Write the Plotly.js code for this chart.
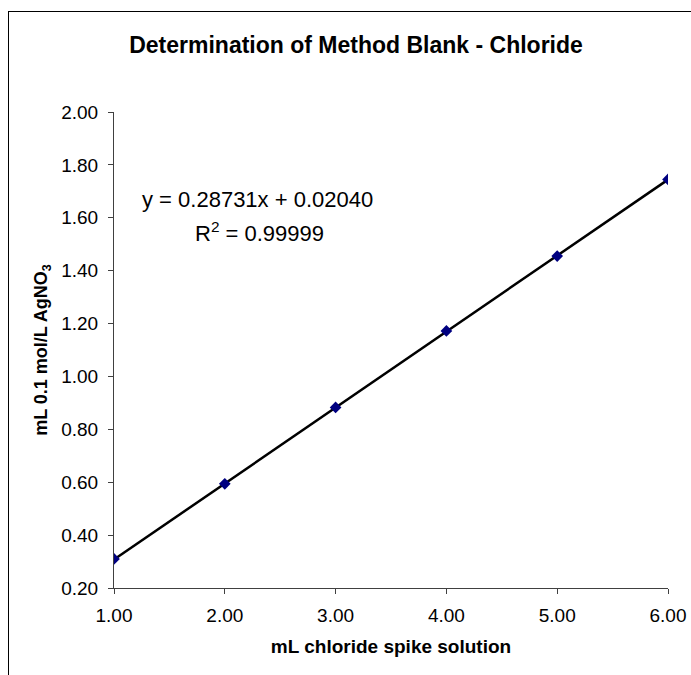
<!DOCTYPE html>
<html>
<head>
<meta charset="utf-8">
<script src="https://cdn.plot.ly/plotly-3.0.1.min.js"></script>
<style>
  html, body { margin: 0; padding: 0; background: #fff; }
  #wrap { position: relative; width: 691px; height: 675px; overflow: hidden; }
  #chart { width: 691px; height: 675px; }
  #frame { position: absolute; left: 8px; top: 11px; width: 760px; height: 760px;
           border-left: 1px solid #000; border-top: 1px solid #000; pointer-events: none; }
</style>
</head>
<body>
<div id="wrap">
  <div id="chart"></div>
  <div id="frame"></div>
</div>
<script>
// Data
const spikeVolume = [1, 2, 3, 4, 5, 6];
const agno3Volume = [0.31, 0.594, 0.883, 1.172, 1.455, 1.745];
const slope = 0.28731;
const intercept = 0.02040;
const rSquared = 0.99999;
const xTicks = [1, 2, 3, 4, 5, 6];
const yTicks = [0.2, 0.4, 0.6, 0.8, 1.0, 1.2, 1.4, 1.6, 1.8, 2.0];

const trendX = [spikeVolume[0], spikeVolume[spikeVolume.length - 1]];
const trendY = trendX.map(x => slope * x + intercept);

const FONT = '"Liberation Sans", Arial, sans-serif';
const AXIS_COLOR = '#404040';

const traces = [
  {
    x: trendX, y: trendY, type: 'scatter', mode: 'lines',
    line: { color: '#000000', width: 2.5 }, hoverinfo: 'skip', showlegend: false
  },
  {
    x: spikeVolume, y: agno3Volume, type: 'scatter', mode: 'markers',
    marker: { symbol: 'diamond', size: 9, color: '#000080' }, showlegend: false
  }
];

const layout = {
  width: 691, height: 675,
  margin: { l: 114, r: 23, t: 112, b: 87 },
  paper_bgcolor: '#ffffff', plot_bgcolor: '#ffffff',
  font: { family: FONT, color: '#000' },
  title: {
    text: '<b>Determination of Method Blank - Chloride</b>',
    font: { family: FONT, size: 23, color: '#000' },
    xref: 'container', yref: 'container', x: 356 / 691, y: 1 - 45 / 675,
    xanchor: 'center', yanchor: 'middle'
  },
  xaxis: {
    range: [1, 6], tickvals: xTicks, tickformat: '.2f',
    showgrid: false, zeroline: false, showline: true, linecolor: AXIS_COLOR, linewidth: 1,
    ticks: 'outside', ticklen: 5, tickcolor: AXIS_COLOR, tickwidth: 1,
    ticklabelstandoff: 5,
    tickfont: { family: FONT, size: 19, color: '#000' },
    title: { text: '<b>mL chloride spike solution</b>', font: { family: FONT, size: 19, color: '#000' }, standoff: 14 },
    automargin: false
  },
  yaxis: {
    range: [0.2, 2.0], tickvals: yTicks, tickformat: '.2f',
    showgrid: false, zeroline: false, showline: true, linecolor: AXIS_COLOR, linewidth: 1,
    ticks: 'outside', ticklen: 5, tickcolor: AXIS_COLOR, tickwidth: 1,
    ticklabelstandoff: 6,
    tickfont: { family: FONT, size: 19, color: '#000' },
    title: { text: '<b>mL 0.1 mol/L AgNO<sub>3</sub></b>', font: { family: FONT, size: 18, color: '#000' }, standoff: 8 },
    automargin: false
  },
  annotations: [
    {
      text: 'y = ' + slope.toFixed(5) + 'x + ' + intercept.toFixed(5),
      xref: 'paper', yref: 'paper', x: (257 - 114) / 554, y: (588 - 199) / 476,
      xanchor: 'center', yanchor: 'middle', showarrow: false,
      font: { family: FONT, size: 22, color: '#000' }
    },
    {
      text: 'R<sup>2</sup> = ' + rSquared.toFixed(5),
      xref: 'paper', yref: 'paper', x: (259 - 114) / 554, y: (588 - 232) / 476,
      xanchor: 'center', yanchor: 'middle', showarrow: false,
      font: { family: FONT, size: 22, color: '#000' }
    }
  ]
};

Plotly.newPlot('chart', traces, layout, { displayModeBar: false, staticPlot: true });
</script>
</body>
</html>
